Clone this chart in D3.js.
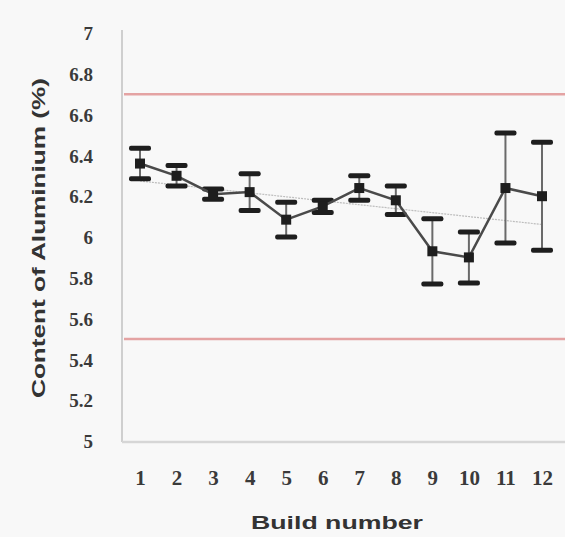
<!DOCTYPE html>
<html>
<head>
<meta charset="utf-8">
<script src="https://cdn.jsdelivr.net/npm/d3@7"></script>
<style>
  html, body { margin: 0; padding: 0; background: #f8f8f8; }
  svg { display: block; }
</style>
</head>
<body>
<svg id="chart" width="565" height="537"></svg>
<script>
// ---- data ----
const builds = [1, 2, 3, 4, 5, 6, 7, 8, 9, 10, 11, 12];
const means  = [6.36, 6.30, 6.21, 6.22, 6.085, 6.15, 6.24, 6.18, 5.93, 5.90, 6.24, 6.20];
const errors = [0.075, 0.05, 0.025, 0.09, 0.085, 0.03, 0.06, 0.07, 0.16, 0.125, 0.27, 0.265];
const yTicks = [5, 5.2, 5.4, 5.6, 5.8, 6, 6.2, 6.4, 6.6, 6.8, 7];
const upperLimit = [6.7];
const lowerLimit = [5.5];
const xTitle = "Build number";
const yTitle = "Content of Aluminium (%)";

(function () {
// ---- layout ----
const svg = d3.select("#chart");
const W = 565, H = 537;
const pLeft = 122, pRight = 565, pTop = 33, pBottom = 441;

const x = d3.scaleLinear().domain([1, 12]).range([140, 542]);
const y = d3.scaleLinear().domain([5, 7]).range([pBottom, pTop]);

svg.append("rect").attr("width", W).attr("height", H).attr("fill", "#f8f8f8");

// axes lines
svg.append("line").attr("x1", pLeft).attr("x2", pLeft).attr("y1", 30).attr("y2", pBottom + 1)
  .attr("stroke", "#cfcfcf").attr("stroke-width", 2);
svg.append("line").attr("x1", pLeft).attr("x2", pRight).attr("y1", pBottom + 1).attr("y2", pBottom + 1)
  .attr("stroke", "#d6d6d6").attr("stroke-width", 2.5);

// y axis tick labels
const yAxis = d3.axisLeft(y).tickValues(yTicks).tickSize(0).tickPadding(0)
  .tickFormat(d => d3.format("~g")(d));
const gy = svg.append("g").attr("transform", `translate(93,0)`).call(yAxis);
gy.select(".domain").remove();
gy.selectAll("text").attr("font-family", "Liberation Serif, serif").attr("font-size", 19)
  .attr("font-weight", "bold").attr("fill", "#3a3a3a").attr("dy", "0.35em");

// x axis tick labels
const xAxis = d3.axisBottom(x).tickValues(builds).tickSize(0).tickPadding(0)
  .tickFormat(d3.format("d"));
const gx = svg.append("g").attr("transform", `translate(0,470)`).call(xAxis);
gx.select(".domain").remove();
gx.selectAll("text").attr("font-family", "Liberation Serif, serif").attr("font-size", 21)
  .attr("font-weight", "bold").attr("fill", "#3a3a3a").attr("dy", "0.71em");

// control limit lines
svg.selectAll(".limit").data(upperLimit.concat(lowerLimit)).enter().append("line")
  .attr("x1", pLeft + 2).attr("x2", pRight).attr("y1", d => y(d)).attr("y2", d => y(d))
  .attr("stroke", "#e4a3a3").attr("stroke-width", 2.5);

// linear trend line (least squares of means)
const mx = d3.mean(builds), my = d3.mean(means);
const slope = d3.sum(builds, (b, i) => (b - mx) * (means[i] - my)) / d3.sum(builds, b => (b - mx) ** 2);
const icpt = my - slope * mx;
svg.append("line")
  .attr("x1", x(1)).attr("y1", y(icpt + slope * 1))
  .attr("x2", x(12)).attr("y2", y(icpt + slope * 12))
  .attr("stroke", "#bdbdbd").attr("stroke-width", 1.2).attr("stroke-dasharray", "2,1");

// error bars
const eb = svg.append("g");
builds.forEach((b, i) => {
  const cx = x(b), hi = y(means[i] + errors[i]), lo = y(means[i] - errors[i]);
  eb.append("line").attr("x1", cx).attr("x2", cx).attr("y1", hi).attr("y2", lo)
    .attr("stroke", "#6a6a6a").attr("stroke-width", 2);
  [hi, lo].forEach(yy => {
    eb.append("rect").attr("x", cx - 11).attr("y", yy - 2.5).attr("width", 22).attr("height", 5)
      .attr("rx", 2).attr("fill", "#1e1e1e");
  });
});

// mean line
const line = d3.line().x((d, i) => x(builds[i])).y(d => y(d));
svg.append("path").datum(means).attr("d", line).attr("fill", "none")
  .attr("stroke", "#4a4a4a").attr("stroke-width", 2.5);

// markers
svg.selectAll(".pt").data(means).enter().append("rect")
  .attr("x", (d, i) => x(builds[i]) - 5).attr("y", d => y(d) - 5)
  .attr("width", 10).attr("height", 10).attr("fill", "#1e1e1e");

// titles
svg.append("text").attr("x", 337).attr("y", 529).attr("text-anchor", "middle")
  .attr("font-family", "Liberation Sans, Arial, sans-serif").attr("font-weight", "bold")
  .attr("font-size", 19).attr("fill", "#333")
  .attr("textLength", 172).attr("lengthAdjust", "spacingAndGlyphs").text(xTitle);

svg.append("text").attr("transform", `translate(45,238) rotate(-90)`).attr("text-anchor", "middle")
  .attr("font-family", "Liberation Sans, Arial, sans-serif").attr("font-weight", "bold")
  .attr("font-size", 19).attr("fill", "#333")
  .attr("textLength", 320).attr("lengthAdjust", "spacingAndGlyphs").text(yTitle);
})();
</script>
</body>
</html>
